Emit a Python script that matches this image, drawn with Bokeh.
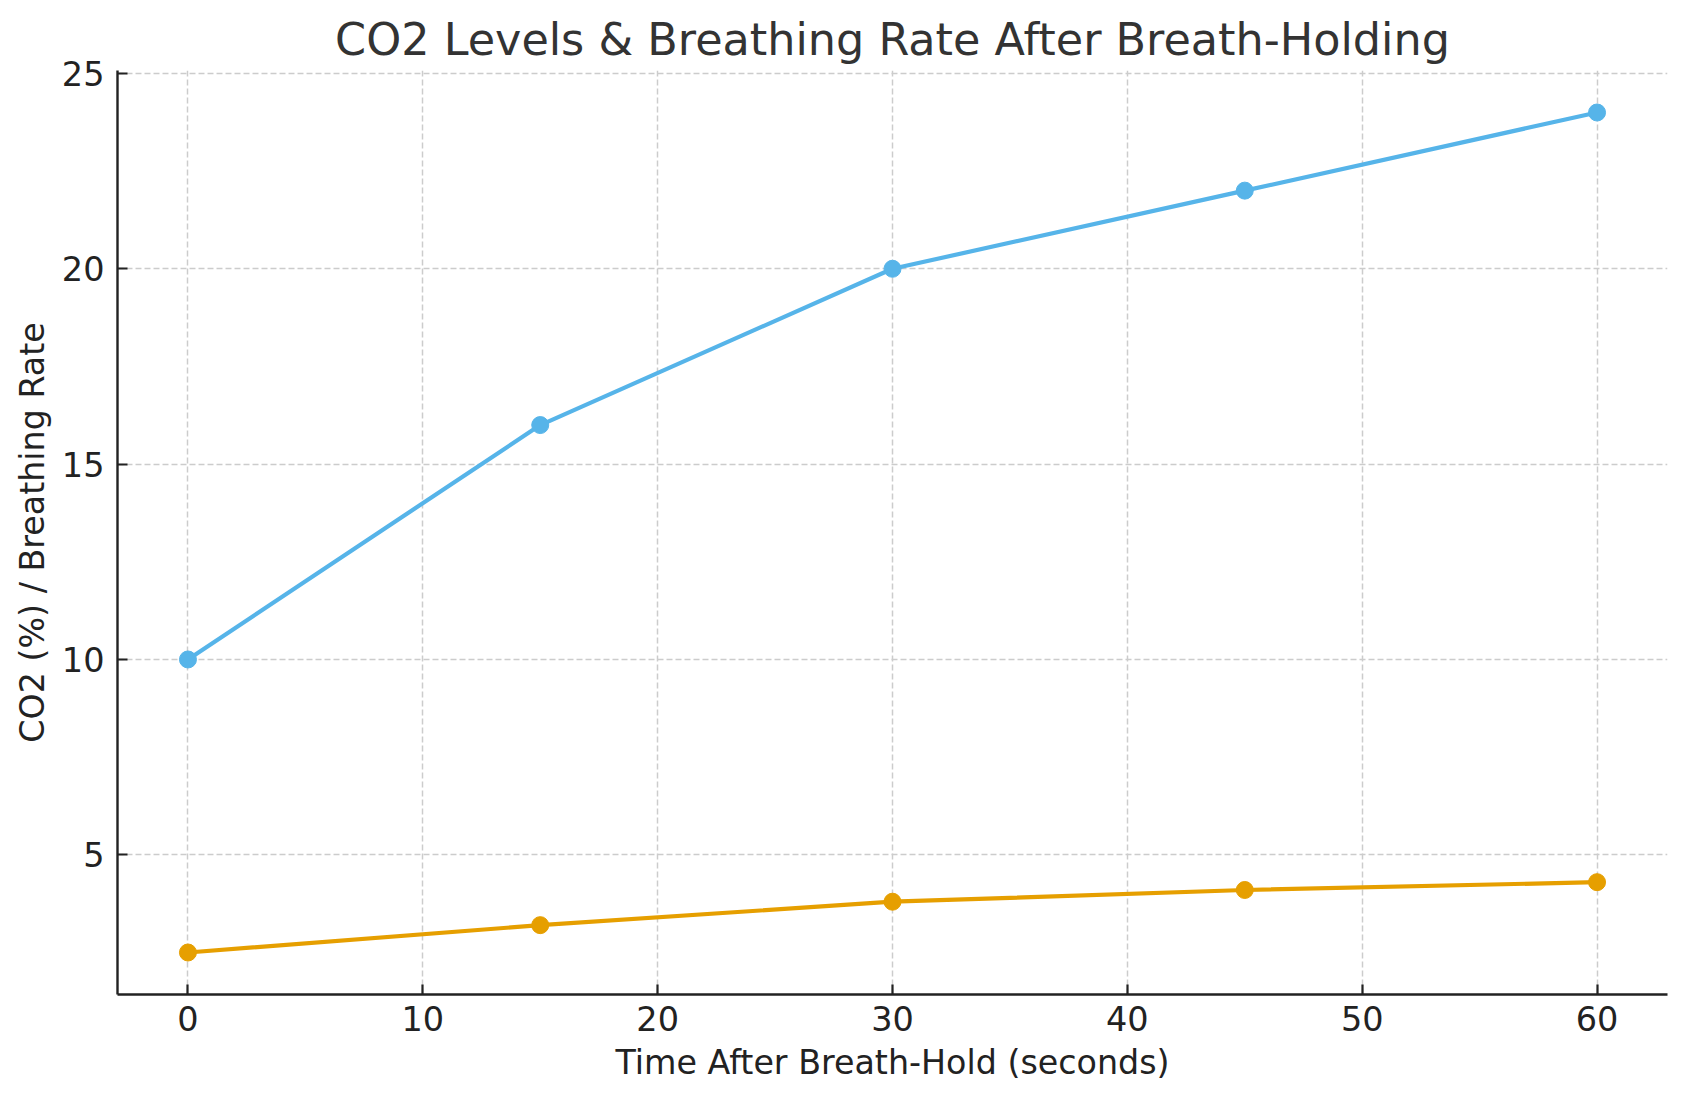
from bokeh.plotting import figure
from bokeh.models import Range1d, FixedTicker
from bokeh.embed import file_html
from bokeh.resources import INLINE

time_s = [0, 15, 30, 45, 60]
breathing_rate = [10, 16, 20, 22, 24]
co2_percent = [2.5, 3.2, 3.8, 4.1, 4.3]
x_ticks = [0, 10, 20, 30, 40, 50, 60]
y_ticks = [5, 10, 15, 20, 25]

FONT = "DejaVu Sans"

p = figure(width=1686, height=1101, output_backend="svg", toolbar_location=None,
           x_range=Range1d(-3, 63), y_range=Range1d(1.425, 25.075),
           min_border_left=117, min_border_right=19, min_border_top=70, min_border_bottom=107)

p.title.text = "CO2 Levels & Breathing Rate After Breath-Holding"
p.title.text_font = FONT
p.title.text_font_size = "44.5px"
p.title.text_font_style = "normal"
p.title.text_color = "#333333"
p.title.align = "center"
p.title.standoff = 12

p.outline_line_color = None
p.background_fill_color = "white"
p.border_fill_color = "white"

for g in (p.xgrid[0], p.ygrid[0]):
    g.grid_line_color = "#cccccc"
    g.grid_line_dash = "6 3"
    g.grid_line_width = 1.5

p.xaxis.ticker = FixedTicker(ticks=x_ticks)
p.yaxis.ticker = FixedTicker(ticks=y_ticks)

for ax in (p.xaxis[0], p.yaxis[0]):
    ax.axis_line_color = "#222222"
    ax.axis_line_width = 2.4
    ax.major_tick_line_color = "#222222"
    ax.major_tick_line_width = 2.2
    ax.major_tick_in = 10
    ax.major_tick_out = 0
    ax.minor_tick_line_color = None
    ax.major_label_text_font = FONT
    ax.major_label_text_font_size = "33.5px"
    ax.major_label_text_color = "#222222"
    ax.axis_label_text_font = FONT
    ax.axis_label_text_font_size = "33.3px"
    ax.axis_label_text_font_style = "normal"
    ax.axis_label_text_color = "#222222"

p.xaxis.axis_label = "Time After Breath-Hold (seconds)"
p.yaxis.axis_label = "CO2 (%) / Breathing Rate"
p.xaxis.major_label_standoff = 11
p.yaxis.major_label_standoff = 13
p.xaxis.axis_label_standoff = 9
p.yaxis.axis_label_standoff = 7

blue = "#56B4E9"
orange = "#E69F00"

p.line(time_s, breathing_rate, line_color=blue, line_width=4.2)
p.scatter(time_s, breathing_rate, size=17, fill_color=blue, line_color=blue)
p.line(time_s, co2_percent, line_color=orange, line_width=4.2)
p.scatter(time_s, co2_percent, size=17, fill_color=orange, line_color=orange)

open("out.html", "w").write(file_html(p, INLINE))
